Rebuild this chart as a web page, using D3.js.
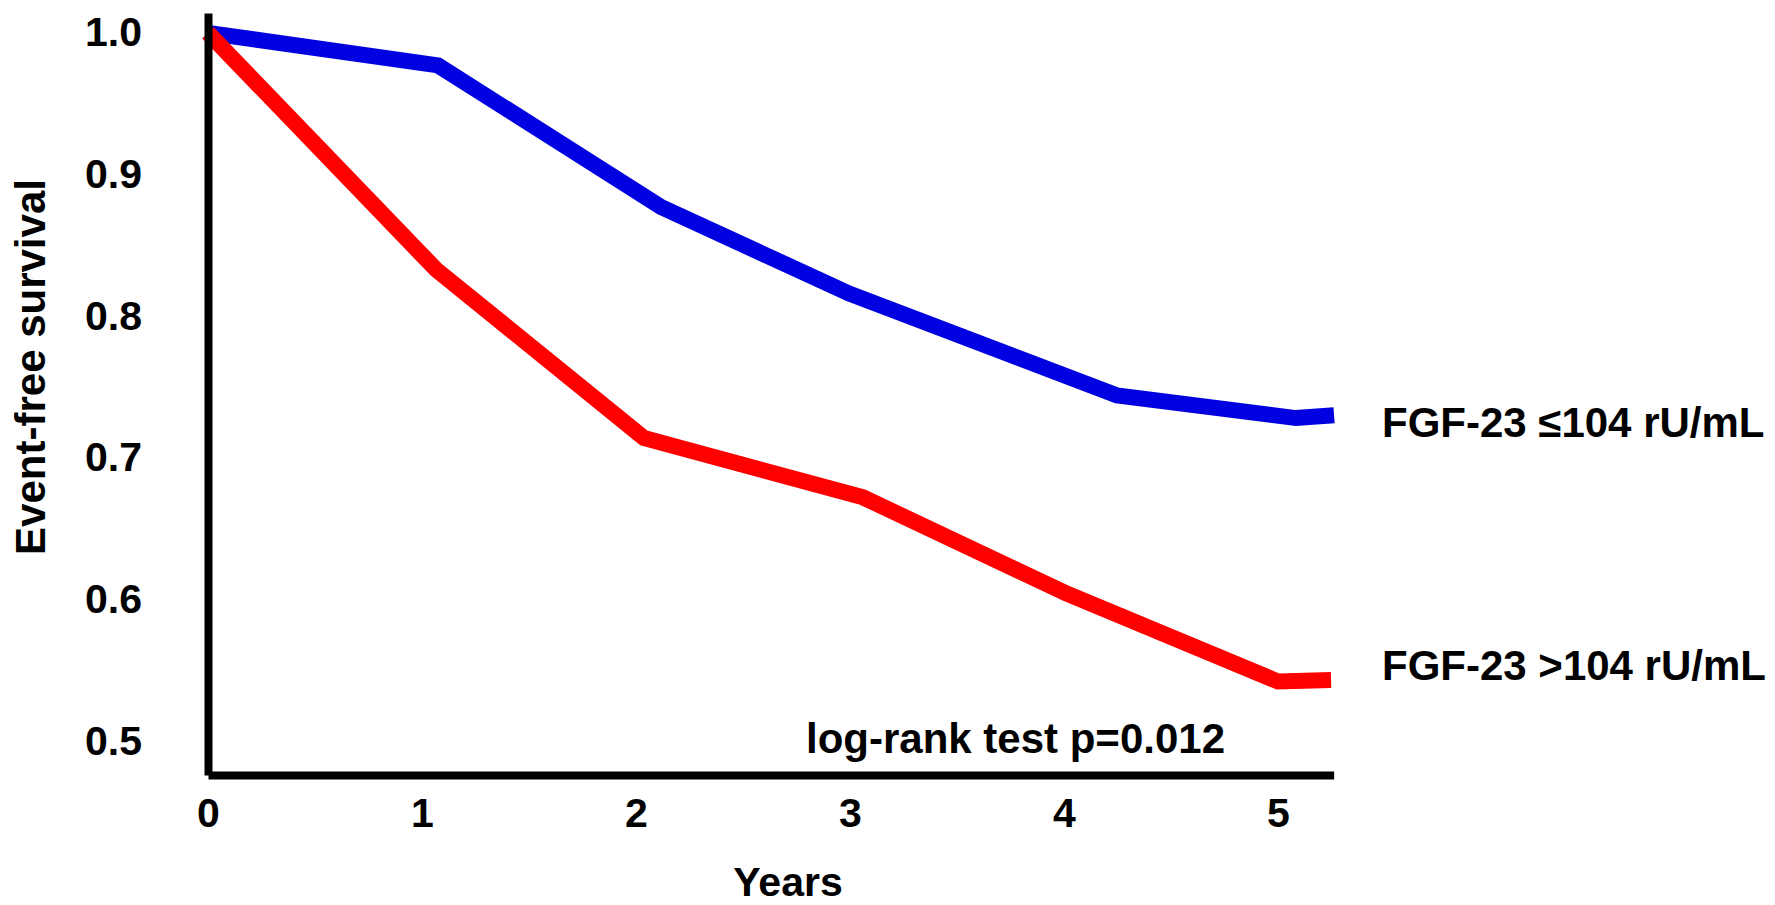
<!DOCTYPE html>
<html>
<head>
<meta charset="utf-8">
<script src="https://cdn.jsdelivr.net/npm/d3@7/dist/d3.min.js"></script>
<style>
  html, body { margin: 0; padding: 0; background: #ffffff; }
  svg { display: block; }
  text { font-family: "Liberation Sans", Arial, Helvetica, sans-serif; font-weight: bold; fill: #000; }
</style>
</head>
<body>
<svg id="chart" width="1775" height="905"></svg>
<script>
// Kaplan-Meier style event-free survival, two FGF-23 groups
const lowTime  = [0, 1.075, 2.117, 2.995, 4.248, 5.084, 5.262];
const lowSurv  = [1.0, 0.977, 0.877, 0.816, 0.744, 0.728, 0.730];
const highTime = [0, 1.065, 2.037, 3.061, 4.014, 5.0, 5.248];
const highSurv = [1.0, 0.833, 0.714, 0.672, 0.604, 0.542, 0.543];

const xTicks = [0, 1, 2, 3, 4, 5];
const yTicks = [0.5, 0.6, 0.7, 0.8, 0.9, 1.0];

const seriesNames  = ["FGF-23 \u2264104 rU/mL", "FGF-23 >104 rU/mL"];
const seriesColors = ["#0000e0", "#ff0000"];

const xTitle = "Years";
const yTitle = "Event-free survival";
const note   = "log-rank test p=0.012";

const svg = d3.select("#chart");

const x = d3.scaleLinear().domain([0, 5.26]).range([208, 208 + 5.26 * 214]);
const y = d3.scaleLinear().domain([0.476, 1.014]).range([775, 13]);

const line = d3.line()
  .x(d => x(d[0]))
  .y(d => y(d[1]));

const series = [
  { name: seriesNames[0], color: seriesColors[0], pts: d3.zip(lowTime, lowSurv), labelY: 437 },
  { name: seriesNames[1], color: seriesColors[1], pts: d3.zip(highTime, highSurv), labelY: 680 }
];

// survival curves
svg.append("g").selectAll("path")
  .data(series)
  .join("path")
  .attr("d", d => line(d.pts))
  .attr("fill", "none")
  .attr("stroke", d => d.color)
  .attr("stroke-width", 16)
  .attr("stroke-linejoin", "miter")
  .attr("stroke-linecap", "butt");

// axes
const yAxis = svg.append("g")
  .attr("transform", "translate(208,0)")
  .call(d3.axisLeft(y).tickValues(yTicks).tickFormat(d3.format(".1f"))
    .tickSizeInner(0).tickSizeOuter(0).tickPadding(66));

const xAxis = svg.append("g")
  .attr("transform", "translate(0,775)")
  .call(d3.axisBottom(x).tickValues(xTicks).tickFormat(d3.format("d"))
    .tickSizeInner(0).tickSizeOuter(0).tickPadding(23));

[yAxis, xAxis].forEach(a => {
  a.select(".domain").attr("stroke", "#000").attr("stroke-width", 8);
  a.selectAll(".tick text")
    .style("font-family", "'Liberation Sans', Arial, sans-serif")
    .style("font-weight", "bold")
    .style("font-size", "41px")
    .attr("fill", "#000");
});

// axis titles
svg.append("text")
  .attr("x", 788).attr("y", 896)
  .attr("text-anchor", "middle")
  .style("font-size", "41px")
  .text(xTitle);

svg.append("text")
  .attr("transform", "translate(45,367) rotate(-90)")
  .attr("text-anchor", "middle")
  .style("font-size", "42px")
  .text(yTitle);

// series labels
svg.append("g").selectAll("text")
  .data(series)
  .join("text")
  .attr("x", 1382)
  .attr("y", d => d.labelY)
  .style("font-size", "42px")
  .text(d => d.name);

// test annotation
svg.append("text")
  .attr("x", 1225).attr("y", 753)
  .attr("text-anchor", "end")
  .style("font-size", "42px")
  .text(note);
</script>
</body>
</html>
